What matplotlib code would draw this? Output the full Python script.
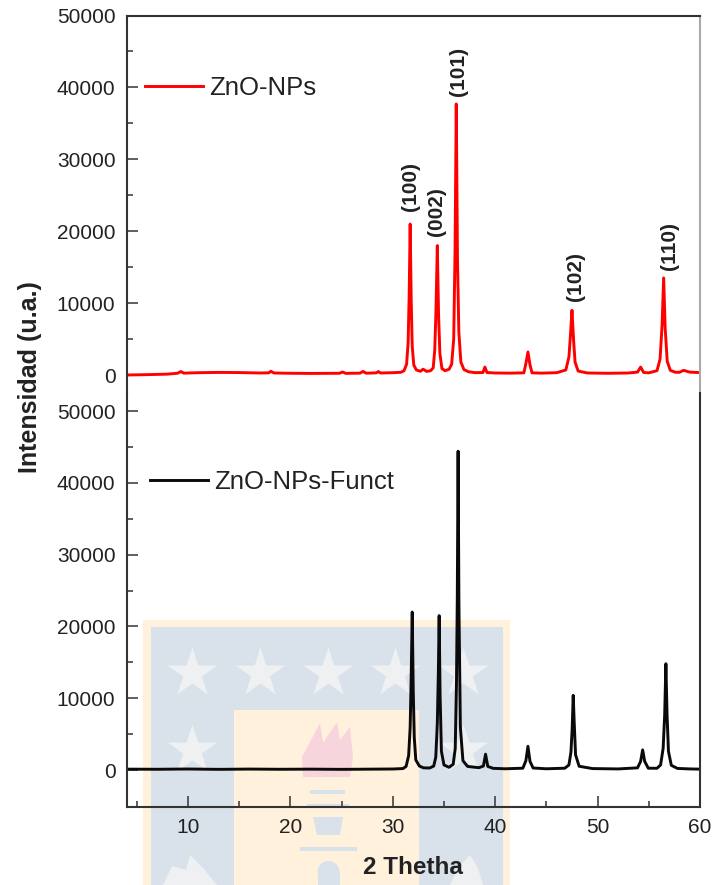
import matplotlib
matplotlib.use('Agg')
import matplotlib.pyplot as plt
from matplotlib.patches import Rectangle, Polygon, Ellipse

plt.rcParams['font.family'] = ['Liberation Sans', 'DejaVu Sans']

# 2 theta / intensity
red_x = [4, 6, 8, 9, 9.3, 9.6, 11, 13, 15, 17, 17.9, 18.1, 18.4, 20, 22, 24.8, 25.1, 25.4, 26.8, 27.1, 27.4,
         28.4, 28.6, 28.8, 30, 30.8, 31.1, 31.35, 31.5, 31.6, 31.7, 31.8, 31.9, 32.05, 32.3, 32.7, 32.95, 33.1,
         33.3, 33.7, 33.95, 34.1, 34.22, 34.35, 34.47, 34.6, 34.8, 35.1, 35.5, 35.75, 35.95, 36.08, 36.2, 36.32,
         36.45, 36.65, 36.95, 37.4, 38, 38.8, 39, 39.2, 40, 41.5, 42.8, 43, 43.2, 43.4, 43.6, 44.5, 46, 46.9,
         47.2, 47.35, 47.5, 47.65, 47.8, 48.1, 49, 51, 53, 53.9, 54.2, 54.5, 55, 55.8, 56.1, 56.3, 56.45, 56.6,
         56.8, 57.1, 57.6, 58, 58.4, 59, 60]
red_y = [0, 50, 120, 250, 480, 260, 320, 360, 340, 280, 300, 520, 280, 240, 220, 240, 420, 230, 260, 500, 250,
         300, 480, 280, 320, 380, 600, 1500, 4500, 11000, 21000, 10500, 4000, 1400, 700, 520, 800, 700,
         500, 600, 1000, 3500, 9000, 18000, 8500, 3000, 900, 600, 800, 1500, 5000, 17000, 37700, 16000,
         6000, 1800, 750, 450, 330, 340, 1100, 340, 280, 260, 300, 1600, 3200, 1400, 300, 260, 320, 700,
         2500, 5500, 9000, 5000, 1800, 550, 280, 240, 280, 400, 1100, 350, 300, 600, 2200, 7000, 13500, 6500,
         1900, 650, 380, 380, 650, 400, 330]

black_x = [4, 7, 10, 13, 16, 19, 22, 25, 28, 30, 31, 31.3, 31.55, 31.7, 31.8, 31.9, 32, 32.1, 32.25, 32.6, 33,
           33.6, 34, 34.2, 34.35, 34.45, 34.53, 34.62, 34.75, 35, 35.5, 35.9, 36.1, 36.22, 36.3, 36.38, 36.46,
           36.6, 36.85, 37.3, 38.4, 38.85, 39.06, 39.28, 39.8, 41, 42.7, 43, 43.2, 43.4, 43.7, 45, 46.8,
           47.2, 47.4, 47.52, 47.62, 47.72, 47.85, 48.2, 49.5, 52, 53.9, 54.2, 54.4, 54.6, 54.95, 55.8, 56.15,
           56.4, 56.55, 56.67, 56.78, 56.92, 57.2, 57.8, 59, 60]
black_y = [120, 100, 140, 90, 130, 100, 120, 90, 120, 140, 200, 500, 2000, 6000, 13000, 22000, 11000,
           4500, 1400, 550, 300, 280, 550, 1800, 6500, 13500, 21500, 10500, 2600, 700, 380, 800, 3000, 12000,
           24000, 44400, 23000, 6000, 1300, 500, 320, 550, 2200, 500, 230, 170, 250, 1300, 3300, 1200, 280,
           170, 250, 700, 2500, 5800, 10400, 6500, 2100, 520, 200, 150, 300, 1200, 2800, 1200, 250, 240, 700,
           3000, 7600, 14800, 7800, 2600, 650, 220, 150, 120]

peak_labels = ['(100)', '(002)', '(101)', '(102)', '(110)']
peak_label_x = [31.75, 34.3, 36.4, 47.8, 57.0]
peak_label_y = [26150, 22700, 42200, 13670, 17940]

yticks = [0, 10000, 20000, 30000, 40000, 50000]
yminor = [5000, 15000, 25000, 35000, 45000]
xticks = [10, 20, 30, 40, 50, 60]
xminor = [5, 15, 25, 35, 45, 55]

W, H = 714, 885
fig = plt.figure(figsize=(W / 100, H / 100), dpi=100)

# watermark behind the plot, in pixel coordinates
bg = fig.add_axes([0, 0, 1, 1], zorder=0)
bg.set_xlim(0, W)
bg.set_ylim(H, 0)
bg.axis('off')
cream = '#FFF1DC'
blue = '#D9E1EB'
grey = '#EFF0F1'
bg.add_patch(Rectangle((143, 620), 367, 265, color=cream, lw=0))
bg.add_patch(Rectangle((151, 627), 352, 258, color=blue, lw=0))
bg.add_patch(Rectangle((234, 710), 185, 175, color=cream, lw=0))
bg.scatter([192, 260, 328, 395, 463, 192, 463], [673, 673, 673, 673, 673, 750, 750],
           marker='*', s=1400, color=grey, lw=0)
bg.add_patch(Polygon([(302, 757), (320, 723), (323, 743), (337, 722), (340, 740), (350, 727),
                      (353, 757), (350, 777), (303, 777)], color='#F8D5DC', lw=0))
bg.add_patch(Rectangle((310, 790), 35, 4, color=blue, lw=0))
bg.add_patch(Rectangle((307, 804), 42, 4, color=blue, lw=0))
bg.add_patch(Polygon([(313, 817), (343, 817), (340, 835), (317, 835)], color=blue, lw=0))
bg.add_patch(Rectangle((300, 847), 57, 4, color=blue, lw=0))
bg.add_patch(Ellipse((328.5, 872), 22, 22, color=blue, lw=0))
bg.add_patch(Rectangle((317.5, 872), 22, 13, color=blue, lw=0))
bg.add_patch(Polygon([(163, 885), (172, 866), (186, 870), (190, 855), (203, 868), (217, 885)], color=grey, lw=0))
bg.add_patch(Polygon([(450, 885), (458, 868), (470, 855), (478, 868), (483, 885)], color=grey, lw=0))

# two stacked panels that share the left spine
left, right = 126.5, 700
top_ax = fig.add_axes([left / W, 1 - 393 / H, (right - left) / W, (393 - 15.5) / H], zorder=2)
bot_ax = fig.add_axes([left / W, 1 - 807 / H, (right - left) / W, (807 - 393) / H], zorder=2)

for ax in [top_ax, bot_ax]:
    ax.patch.set_alpha(0)
    ax.set_xlim(4, 60)
    ax.set_yticks(yticks)
    ax.set_yticks(yminor, minor=True)
    ax.set_xticks(xticks)
    ax.set_xticks(xminor, minor=True)
    ax.tick_params(which='major', direction='in', length=8, width=1.1, labelsize=15,
                   color='#333333', labelcolor='#222222', pad=8)
    ax.tick_params(which='minor', direction='in', length=4.5, width=1.1, color='#333333')
    for s in ax.spines.values():
        s.set_linewidth(1.5)
        s.set_color('#333333')

top_ax.set_ylim(-2503, 50000)
bot_ax.set_ylim(-5153, 52507)
top_ax.spines['bottom'].set_visible(False)
top_ax.spines['right'].set_color('#aaaaaa')
top_ax.tick_params(axis='x', which='both', bottom=False, labelbottom=False)
bot_ax.spines['top'].set_visible(False)

top_ax.plot(red_x, red_y, color='#ff0000', lw=2.1, label='ZnO-NPs')
bot_ax.plot(black_x, black_y, color='#0a0a0a', lw=2.1, label='ZnO-NPs-Funct')

for lab, lx, ly in zip(peak_labels, peak_label_x, peak_label_y):
    top_ax.text(lx, ly, lab, rotation=90, ha='center', va='center', fontsize=15,
                fontweight='bold', color='#222222')

top_ax.legend(loc='center left', bbox_to_anchor=(0.032, 0.808), frameon=False, fontsize=18.5,
              handlelength=2.26, handletextpad=0.24, borderpad=0, borderaxespad=0, labelcolor='#222222')
bot_ax.legend(loc='center left', bbox_to_anchor=(0.041, 0.785), frameon=False, fontsize=18.5,
              handlelength=2.26, handletextpad=0.24, borderpad=0, borderaxespad=0, labelcolor='#222222')

fig.text(30 / W, 1 - 377 / H, 'Intensidad (u.a.)', rotation=90, ha='center', va='center',
         fontsize=18, fontweight='bold', color='#222222', zorder=3)
fig.text(413 / W, 1 - 867 / H, '2 Thetha', ha='center', va='center',
         fontsize=17.5, fontweight='bold', color='#222222', zorder=3)

fig.savefig('out.png', dpi=100)
